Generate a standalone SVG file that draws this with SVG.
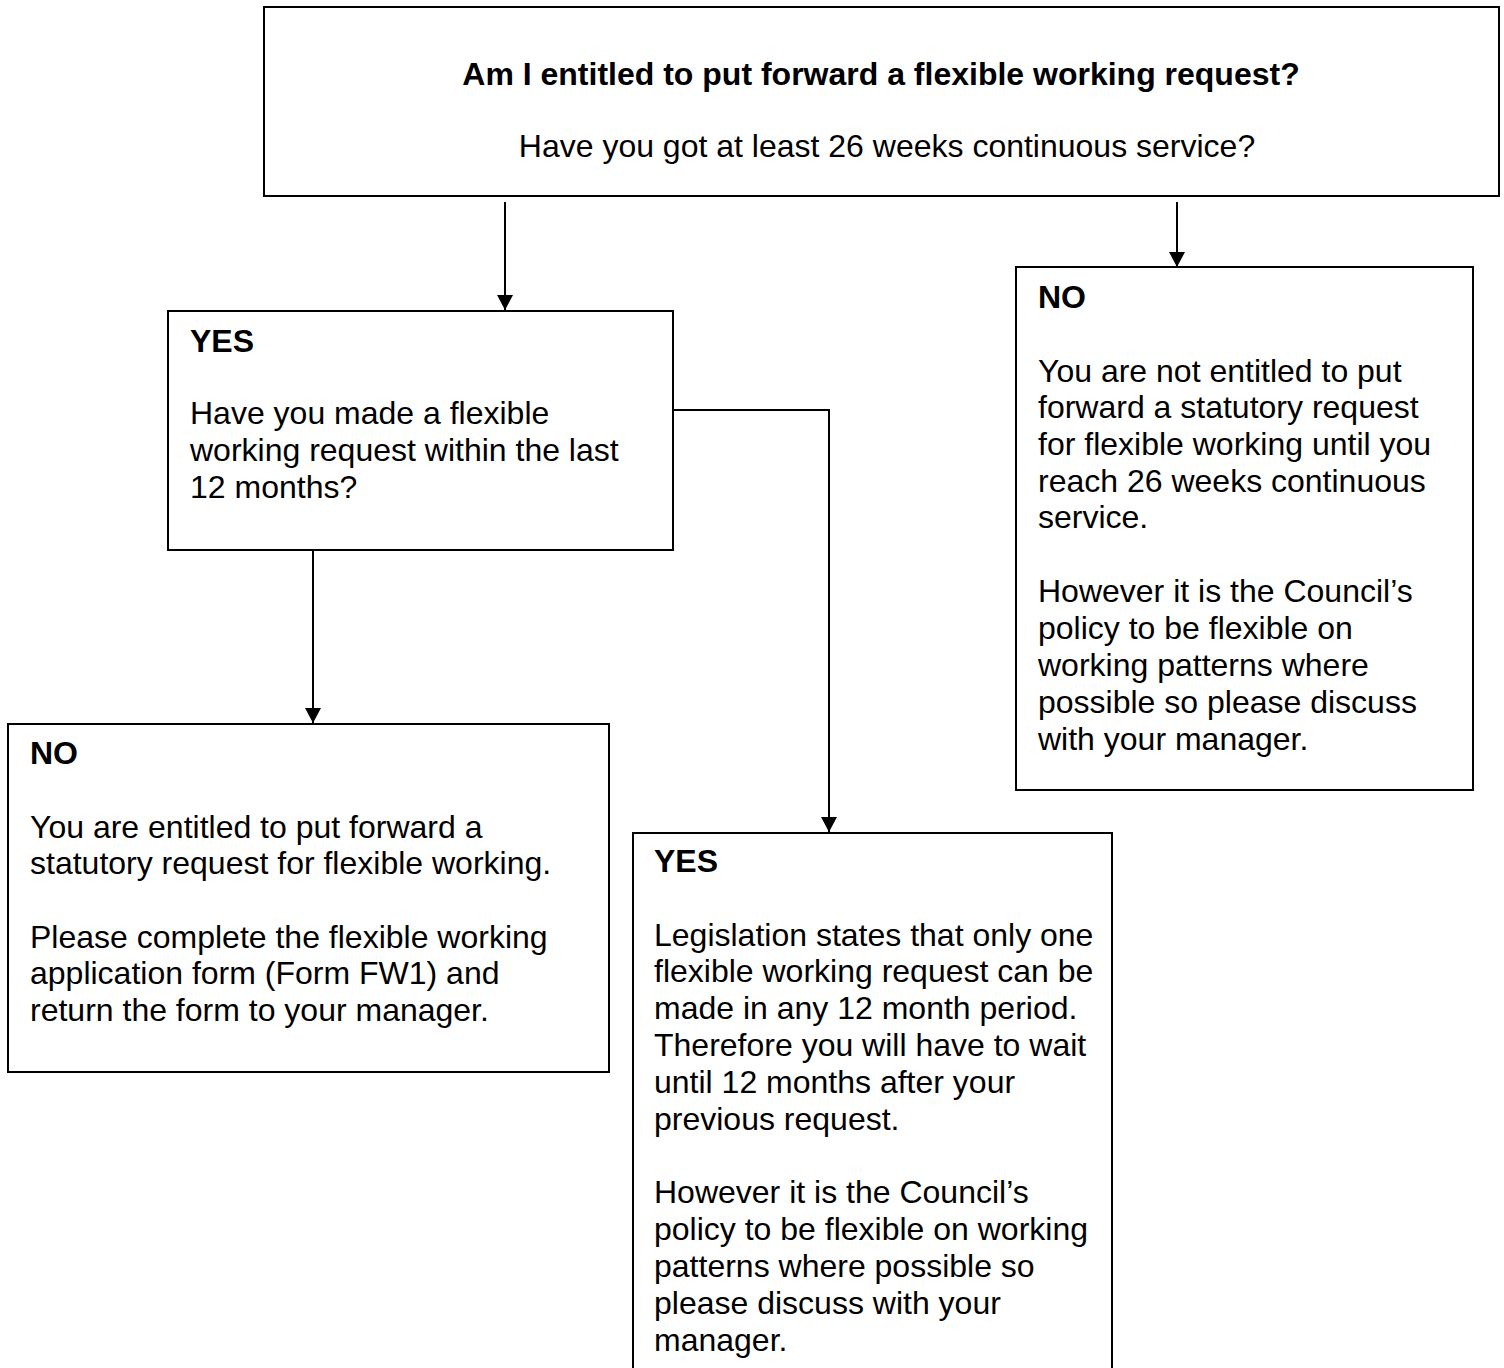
<svg xmlns="http://www.w3.org/2000/svg" width="1504" height="1368" viewBox="0 0 1504 1368">
<style>
.box{fill:#fff;stroke:#000;stroke-width:2}
.t{font-family:"Liberation Sans",Arial,sans-serif;font-size:32px;fill:#000}
.b{font-weight:bold}
.c{fill:none;stroke:#000;stroke-width:2}
</style>
<defs>
<marker id="ah" markerWidth="15" markerHeight="16" refX="15" refY="8" orient="auto" markerUnits="userSpaceOnUse" viewBox="0 0 15 16">
<path d="M0,0 L15,8 L0,16 Z" fill="#000"/>
</marker>
</defs>
<rect width="1504" height="1368" fill="#fff"/>
<g id="connectors">
<path class="c" d="M505,202 V310" marker-end="url(#ah)"/>
<path class="c" d="M1177,202 V267" marker-end="url(#ah)"/>
<path class="c" d="M313,550 V723" marker-end="url(#ah)"/>
<path class="c" d="M673,410 H829 V832" marker-end="url(#ah)"/>
</g>
<g id="n_top">
<rect class="box" x="264" y="7" width="1235" height="189"/>
<text class="t b" x="881" y="85" text-anchor="middle">Am I entitled to put forward a flexible working request?</text>
<text class="t" x="887" y="157" text-anchor="middle">Have you got at least 26 weeks continuous service?</text>
</g>
<g id="n_yes1">
<rect class="box" x="168" y="311" width="505" height="239"/>
<text class="t b" x="190" y="352">YES</text>
<text class="t" x="190" y="424">Have you made a flexible</text>
<text class="t" x="190" y="461">working request within the last</text>
<text class="t" x="190" y="498">12 months?</text>
</g>
<g id="n_no_right">
<rect class="box" x="1016" y="267" width="457" height="523"/>
<text class="t b" x="1038" y="308">NO</text>
<text class="t" x="1038" y="382">You are not entitled to put</text>
<text class="t" x="1038" y="418">forward a statutory request</text>
<text class="t" x="1038" y="455">for flexible working until you</text>
<text class="t" x="1038" y="492">reach 26 weeks continuous</text>
<text class="t" x="1038" y="528">service.</text>
<text class="t" x="1038" y="602">However it is the Council’s</text>
<text class="t" x="1038" y="639">policy to be flexible on</text>
<text class="t" x="1038" y="676">working patterns where</text>
<text class="t" x="1038" y="713">possible so please discuss</text>
<text class="t" x="1038" y="750">with your manager.</text>
</g>
<g id="n_no_left">
<rect class="box" x="8" y="724" width="601" height="348"/>
<text class="t b" x="30" y="764">NO</text>
<text class="t" x="30" y="838">You are entitled to put forward a</text>
<text class="t" x="30" y="874">statutory request for flexible working.</text>
<text class="t" x="30" y="948">Please complete the flexible working</text>
<text class="t" x="30" y="984">application form (Form FW1) and</text>
<text class="t" x="30" y="1021">return the form to your manager.</text>
</g>
<g id="n_yes2">
<rect class="box" x="633" y="833" width="479" height="560"/>
<text class="t b" x="654" y="872">YES</text>
<text class="t" x="654" y="946">Legislation states that only one</text>
<text class="t" x="654" y="982">flexible working request can be</text>
<text class="t" x="654" y="1019">made in any 12 month period.</text>
<text class="t" x="654" y="1056">Therefore you will have to wait</text>
<text class="t" x="654" y="1093">until 12 months after your</text>
<text class="t" x="654" y="1130">previous request.</text>
<text class="t" x="654" y="1203">However it is the Council’s</text>
<text class="t" x="654" y="1240">policy to be flexible on working</text>
<text class="t" x="654" y="1277">patterns where possible so</text>
<text class="t" x="654" y="1314">please discuss with your</text>
<text class="t" x="654" y="1351">manager.</text>
</g>
</svg>
